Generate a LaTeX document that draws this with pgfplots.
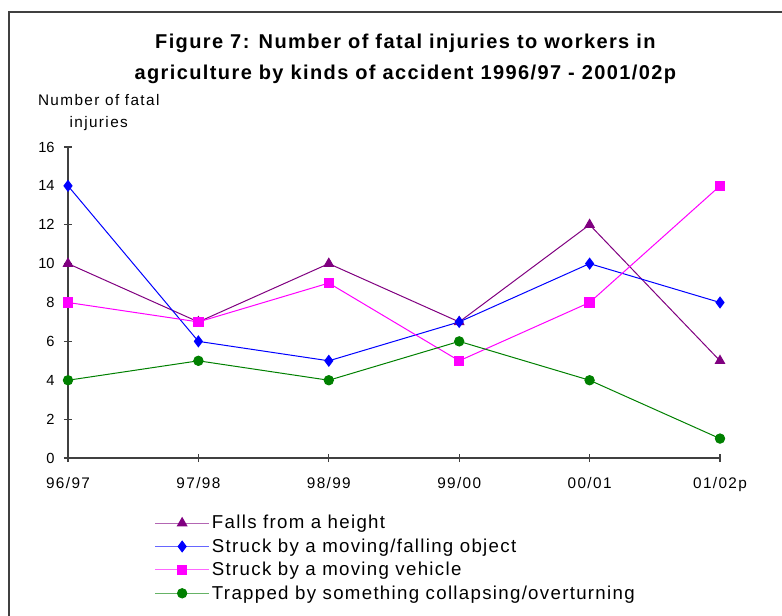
\documentclass[border=0pt]{standalone}
\usepackage{pgfplots}
\pgfplotsset{compat=1.18}
\usepackage{fontspec}
\setmainfont{Liberation Sans}
\newfontfamily\titlefont[LetterSpace=7]{Liberation Sans}
\newfontfamily\labelfont[LetterSpace=9]{Liberation Sans}
\newfontfamily\legfont[LetterSpace=7]{Liberation Sans}
\definecolor{falls}{HTML}{800080}
\definecolor{object}{HTML}{0000FF}
\definecolor{vehicle}{HTML}{FF00FF}
\definecolor{trapped}{HTML}{008000}

\begin{document}
\begin{tikzpicture}
% canvas = 782x616 px, 1px = 0.75pt, origin top left
\useasboundingbox (0pt,0pt) rectangle (586.5pt,-462pt);
\draw[line width=1.6pt, black!75] (6.75pt,-462pt) -- (6.75pt,-9pt) -- (586.5pt,-9pt);

\node[font=\titlefont\fontsize{15}{23}\selectfont\bfseries, align=center] at (304pt,-44pt)
  {Figure 7:  Number of fatal injuries to workers in\\agriculture by kinds of accident 1996/97 - 2001/02p};
\node[font=\labelfont\fontsize{11.5}{16.5}\selectfont, align=center, anchor=north west] at (25pt,-67pt)
  {Number of fatal\\injuries};

\begin{axis}[
  at={(51pt,-343.5pt)}, anchor=south west,
  scale only axis, width=489pt, height=233.25pt,
  axis lines=left, axis line style={-, black!75, line width=0.8pt},
  xmin=0, xmax=5, ymin=0, ymax=16,
  xtick={0,...,5},
  xticklabels={96/97,97/98,98/99,99/00,00/01,01/02p},
  ytick={0,2,...,16},
  tick align=center, major tick length=6pt,
  tick style={black!75, line width=0.8pt},
  tick label style={font=\fontsize{11}{13}\selectfont},
  /pgf/number format/assume math mode=true,
  xticklabel style={yshift=-8pt, font=\labelfont\fontsize{11.5}{13}\selectfont},
  yticklabel style={xshift=-3.5pt},
  clip=false,
  every axis plot/.append style={line width=0.75pt},
  legend style={at={(0.133,-0.175)}, anchor=north west, draw=none, fill=none,
    font=\legfont\fontsize{14}{16}\selectfont, row sep=1.9pt, inner sep=0pt,
    /tikz/every even column/.append style={column sep=2pt}},
  legend cell align=left,
  legend image code/.code={%
    \draw[opacity=0.6] (0pt,0pt) -- (40pt,0pt);
    \draw[only marks] plot coordinates {(20pt,0pt)};},
]
\addplot[falls, mark=triangle*, mark size=4pt] coordinates
  {(0,10) (1,7) (2,10) (3,7) (4,12) (5,5)};
\addlegendentry{Falls from a height}
\addplot[object, mark=diamond*, mark size=4pt] coordinates
  {(0,14) (1,6) (2,5) (3,7) (4,10) (5,8)};
\addlegendentry{Struck by a moving/falling object}
\addplot[vehicle, mark=square*, mark size=3.5pt] coordinates
  {(0,8) (1,7) (2,9) (3,5) (4,8) (5,14)};
\addlegendentry{Struck by a moving vehicle}
\addplot[trapped, mark=*, mark size=3.5pt] coordinates
  {(0,4) (1,5) (2,4) (3,6) (4,4) (5,1)};
\addlegendentry{Trapped by something collapsing/overturning}
\end{axis}
\end{tikzpicture}
\end{document}
